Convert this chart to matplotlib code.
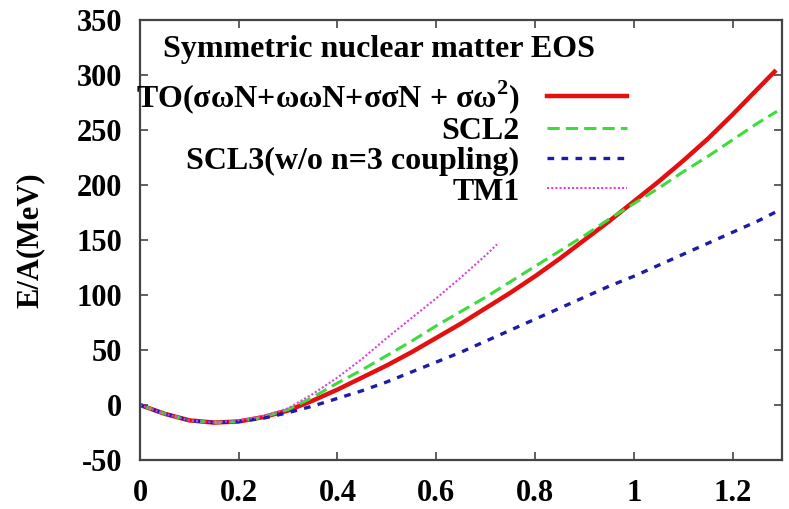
import matplotlib.pyplot as plt

plt.rcParams['font.family'] = ['Liberation Serif', 'DejaVu Serif']
plt.rcParams['font.weight'] = 'bold'
plt.rcParams['mathtext.fontset'] = 'custom'
plt.rcParams['mathtext.rm'] = 'Liberation Serif:bold'
plt.rcParams['mathtext.bf'] = 'Liberation Serif:bold'
plt.rcParams['axes.unicode_minus'] = False

# density (fm^-3) and energy per nucleon (MeV)
x_to = [0, 0.05, 0.1, 0.15, 0.2, 0.25, 0.3, 0.35, 0.4, 0.45, 0.5, 0.55, 0.6,
        0.65, 0.7, 0.75, 0.8, 0.85, 0.9, 0.95, 1.0, 1.05, 1.1, 1.15, 1.2,
        1.25, 1.285]
e_to = [0, -8, -14, -16, -15, -11, -5, 4, 14, 25, 36, 48, 61, 74, 88, 102,
        117, 133, 150, 167, 185, 203, 222, 242, 264, 287, 303]

x_scl2 = [0, 0.05, 0.1, 0.15, 0.2, 0.25, 0.3, 0.35, 0.4, 0.45, 0.5, 0.55,
          0.6, 0.65, 0.7, 0.75, 0.8, 0.85, 0.9, 0.95, 1.0, 1.05, 1.1, 1.15,
          1.2, 1.25, 1.29]
e_scl2 = [0, -8, -14, -16, -15, -11, -4, 7, 20, 32, 45, 58, 72, 85, 98, 112,
          126, 140, 154, 169, 183, 197, 212, 226, 241, 256, 267]

x_scl3 = [0, 0.05, 0.1, 0.15, 0.2, 0.25, 0.3, 0.35, 0.4, 0.45, 0.5, 0.55,
          0.6, 0.65, 0.7, 0.75, 0.8, 0.85, 0.9, 0.95, 1.0, 1.05, 1.1, 1.15,
          1.2, 1.25, 1.29]
e_scl3 = [0, -8, -14, -16, -15, -12, -7, -1, 6, 13, 21, 30, 39, 48, 58, 68,
          78, 88, 98, 108, 117, 127, 137, 147, 157, 167, 176]

x_tm1 = [0, 0.05, 0.1, 0.15, 0.2, 0.25, 0.3, 0.35, 0.4, 0.45, 0.5, 0.55,
         0.6, 0.65, 0.7, 0.723]
e_tm1 = [0, -8, -14, -16, -14, -10, -3, 10, 25, 42, 61, 79, 97, 116, 136,
         146]

fig = plt.figure(figsize=(7.89, 5.09), dpi=100)
ax = fig.add_axes([0.1774, 0.0963, 0.8136, 0.8644])

ax.plot(x_to, e_to, color='#e41010', lw=3.2, linestyle='-',
        label=r'TO(σωN+ωωN+σσN + σω$^2$)')
ax.plot(x_scl2, e_scl2, color='#3ddc3d', lw=2.2, linestyle=(0, (4, 2)),
        label='SCL2')
ax.plot(x_scl3, e_scl3, color='#1c1ca8', lw=2.4, linestyle=(0, (2, 2.2)),
        label='SCL3(w/o n=3 coupling)')
ax.plot(x_tm1, e_tm1, color='#e040e0', lw=1.5, linestyle=(0, (1, 1)),
        label='TM1')

ax.set_xlim(0, 1.3)
ax.set_ylim(-50, 350)
ax.set_xticks([0, 0.2, 0.4, 0.6, 0.8, 1.0, 1.2])
ax.set_xticklabels(['0', '0.2', '0.4', '0.6', '0.8', '1', '1.2'])
ax.set_yticks(range(-50, 351, 50))
ax.tick_params(direction='in', top=True, right=True, length=6, width=1.2,
               labelsize=22, color='#444444')
ax.tick_params(axis='x', pad=14)
ax.tick_params(axis='y', pad=13)
for s in ax.spines.values():
    s.set_color('#444444')
    s.set_linewidth(1.6)

ax.set_ylabel('E/A(MeV)', fontsize=22, fontweight='bold')
ax.yaxis.set_label_coords(-0.148, 0.5)

ax.text(0.372, 0.932, 'Symmetric nuclear matter EOS', transform=ax.transAxes,
        ha='center', va='center', fontsize=23, fontweight='bold')
leg = ax.legend(loc='upper right', bbox_to_anchor=(0.783, 0.905),
                frameon=False, markerfirst=False, fontsize=23,
                handlelength=2.5, handletextpad=0.85, labelspacing=0.03,
                borderpad=0)

fig.savefig('out.png', dpi=100)
